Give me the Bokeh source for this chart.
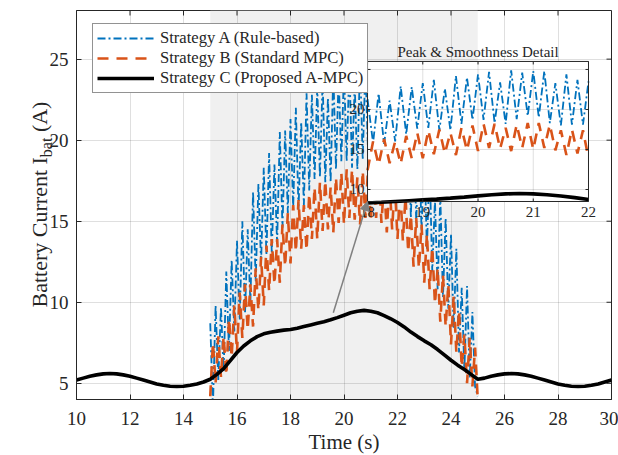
import numpy as np
from bokeh.plotting import figure
from bokeh.layouts import row
from bokeh.models import (Range1d, Legend, LegendItem, Arrow, NormalHead, FixedTicker,
                          BoxAnnotation, Div)
from bokeh.core.properties import value
from bokeh.embed import file_html
from bokeh.resources import INLINE

# ---------------- data ----------------
fast_t_start, fast_t_step = 15.0, 0.1
strategy_a = [8.7, 3.5, 9.8, 5.2, 9.7, 5.7, 11.9, 7.0, 12.6, 8.2,
              13.8, 8.9, 15.0, 9.3, 14.5, 9.9, 16.8, 11.3, 17.3, 12.4,
              18.3, 12.9, 19.2, 13.0, 18.5, 13.6, 20.5, 14.6, 20.6, 15.5,
              21.3, 15.8, 22.0, 15.7, 21.1, 16.0, 22.9, 16.9, 22.8, 17.6,
              23.3, 17.7, 23.7, 17.4, 22.6, 17.4, 24.2, 18.2, 24.0, 18.7,
              24.4, 18.7, 24.7, 18.3, 23.4, 18.2, 24.9, 18.8, 24.6, 19.2,
              24.8, 19.0, 24.8, 18.3, 23.3, 18.0, 24.4, 18.1, 23.7, 18.1,
              23.5, 17.4, 23.0, 16.1, 20.9, 15.2, 21.5, 14.9, 20.2, 14.4,
              19.4, 13.3, 18.6, 11.9, 16.3, 10.8, 16.6, 10.3, 15.2, 9.6,
              14.2, 8.4, 13.3, 6.9, 10.9, 5.8, 11.0, 5.3, 9.4, 4.8,
              4.2]
strategy_b = [4.2, 7.5, 5.0, 7.9, 5.4, 7.9, 5.5, 9.0, 6.6, 9.8,
              6.9, 10.6, 7.8, 11.1, 8.3, 11.1, 8.5, 12.1, 9.5, 12.8,
              9.8, 13.5, 10.7, 13.9, 11.1, 13.9, 11.2, 14.8, 12.2, 15.5,
              12.4, 16.0, 13.1, 16.3, 13.3, 16.0, 13.2, 16.7, 13.9, 17.1,
              13.9, 17.4, 14.4, 17.5, 14.5, 17.1, 14.3, 17.7, 14.9, 18.0,
              14.8, 18.2, 15.2, 18.2, 15.1, 17.7, 14.8, 18.1, 15.2, 18.3,
              15.0, 18.3, 15.2, 18.1, 14.9, 17.4, 14.3, 17.5, 14.5, 17.4,
              13.9, 17.1, 13.8, 16.5, 13.1, 15.4, 12.2, 15.2, 12.1, 14.8,
              11.2, 14.2, 10.8, 13.4, 9.9, 12.1, 8.8, 11.7, 8.5, 11.1,
              7.4, 10.4, 6.9, 9.5, 6.0, 8.0, 5.0, 7.8, 4.8, 7.2,
              4.0]
smooth_t_start, smooth_t_step = 10.0, 0.25
strategy_c = [5.20, 5.32, 5.44, 5.52, 5.58, 5.60, 5.58, 5.52, 5.44, 5.32,
              5.20, 5.08, 4.96, 4.88, 4.82, 4.80, 4.82, 4.88, 4.96, 5.08,
              5.25, 5.55, 5.90, 6.40, 6.90, 7.30, 7.62, 7.88, 8.05, 8.15,
              8.22, 8.28, 8.32, 8.40, 8.50, 8.60, 8.70, 8.80, 8.92, 9.05,
              9.20, 9.35, 9.45, 9.50, 9.45, 9.35, 9.18, 8.98, 8.75, 8.48,
              8.16, 7.88, 7.62, 7.38, 7.08, 6.75, 6.42, 6.12, 5.85, 5.55,
              5.25, 5.32, 5.44, 5.52, 5.58, 5.60, 5.58, 5.52, 5.44, 5.32,
              5.20, 5.08, 4.96, 4.88, 4.82, 4.80, 4.82, 4.88, 4.96, 5.08,
              5.20]
labels = ["Strategy A (Rule-based)", "Strategy B (Standard MPC)",
          "Strategy C (Proposed A-MPC)"]
x_ticks = [10, 12, 14, 16, 18, 20, 22, 24, 26, 28, 30]
y_ticks = [5, 10, 15, 20, 25]
shade_span = [15, 25]
inset_x_ticks = [18, 19, 20, 21, 22]
inset_y_ticks = [10, 15, 20, 25]
inset_xlim = [18, 22]
inset_ylim = [8.5, 26]
arrow_from = [19.6, 9.35]

t_fast = np.round(fast_t_start + fast_t_step * np.arange(len(strategy_a)), 3)
t_smooth = np.round(smooth_t_start + smooth_t_step * np.arange(len(strategy_c)), 3)

# ---------------- styles / geometry ----------------
FONT = "Liberation Serif"
AX = "#262626"
BLUE, ORANGE = "#0072BD", "#D95319"
XR, YR = (10, 30), (4, 28)
FW, FH = 535, 389          # frame size (px)
LBL_W = 46                 # width of the y-title strip
TOP, BOTTOM, LEFT, RIGHT = 10, 56, 30, 7
H = TOP + FH + BOTTOM

p = figure(frame_width=FW, frame_height=FH, x_range=Range1d(*XR), y_range=Range1d(*YR),
           output_backend="svg", toolbar_location=None,
           min_border_left=LEFT, min_border_right=RIGHT, min_border_top=TOP,
           min_border_bottom=BOTTOM, background_fill_color="white",
           border_fill_color="white", border_fill_alpha=0.0)
p.outline_line_color = AX
p.grid.grid_line_color = AX
p.grid.grid_line_alpha = 0.15
p.xaxis.ticker = FixedTicker(ticks=x_ticks)
p.yaxis.ticker = FixedTicker(ticks=y_ticks)
for ax, st in ((p.xaxis, 12), (p.yaxis, 8)):
    ax.major_tick_in = 5
    ax.major_tick_out = 0
    ax.minor_tick_in = 0
    ax.minor_tick_out = 0
    ax.axis_line_color = AX
    ax.major_tick_line_color = AX
    ax.major_label_text_font = FONT
    ax.major_label_text_font_size = "19px"
    ax.major_label_text_color = AX
    ax.major_label_standoff = st
p.xaxis.axis_label = "Time (s)"
p.xaxis.axis_label_text_font = FONT
p.xaxis.axis_label_text_font_size = "21px"
p.xaxis.axis_label_text_font_style = "normal"
p.xaxis.axis_label_text_color = AX
p.xaxis.axis_label_standoff = 2

# ticks on top and right edges (box style)
ux = 5 * (XR[1] - XR[0]) / FW
uy = 5 * (YR[1] - YR[0]) / FH
p.segment(x0=x_ticks, x1=x_ticks, y0=[YR[1]] * len(x_ticks), y1=[YR[1] - uy] * len(x_ticks),
          line_color=AX, line_width=1)
p.segment(x0=[XR[1]] * len(y_ticks), x1=[XR[1] - ux] * len(y_ticks), y0=y_ticks, y1=y_ticks,
          line_color=AX, line_width=1)

p.add_layout(BoxAnnotation(left=shade_span[0], right=shade_span[1], fill_color="#f0f0f0",
                           fill_alpha=1.0, line_color=None, level="image"))

STY_A = dict(line_color=BLUE, line_width=1.8, line_dash="8 3 2 3")
STY_B = dict(line_color=ORANGE, line_width=2.6, line_dash="11 8")
STY_C = dict(line_color="black", line_width=3.6)
ra = p.line(t_fast, strategy_a, **STY_A)
rb = p.line(t_fast, strategy_b, **STY_B)
rc = p.line(t_smooth, strategy_c, **STY_C)

legend = Legend(items=[LegendItem(label=labels[0], renderers=[ra]),
                       LegendItem(label=labels[1], renderers=[rb]),
                       LegendItem(label=labels[2], renderers=[rc])],
                location=(16, 306), padding=4, margin=0, spacing=0,
                glyph_width=57, glyph_height=20, label_height=20, label_standoff=6,
                label_text_font=FONT, label_text_font_size="16.6px", label_text_color=AX,
                border_line_color=AX, border_line_width=1,
                background_fill_color="white", background_fill_alpha=1.0)
p.add_layout(legend)

# ---------------- inset (own ranges mapped onto a box in the frame) ----------------
bx0, bx1, by0, by1 = 0.544, 0.957, 0.509, 0.869     # box as fractions of the frame
mx0 = XR[0] + (XR[1] - XR[0]) * bx0
mx1 = XR[0] + (XR[1] - XR[0]) * bx1
my0 = YR[0] + (YR[1] - YR[0]) * by0
my1 = YR[0] + (YR[1] - YR[0]) * by1
sx = (mx1 - mx0) / (inset_xlim[1] - inset_xlim[0])
sy = (my1 - my0) / (inset_ylim[1] - inset_ylim[0])
p.extra_x_ranges = {"ix": Range1d(inset_xlim[0] - (mx0 - XR[0]) / sx,
                                  inset_xlim[1] + (XR[1] - mx1) / sx)}
p.extra_y_ranges = {"iy": Range1d(inset_ylim[0] - (my0 - YR[0]) / sy,
                                  inset_ylim[1] + (YR[1] - my1) / sy)}
IN = dict(x_range_name="ix", y_range_name="iy", level="overlay")

p.quad(left=[inset_xlim[0]], right=[inset_xlim[1]], bottom=[inset_ylim[0]], top=[inset_ylim[1]],
       fill_color="white", line_color=None, **IN)
gx = inset_x_ticks[1:-1]
p.segment(x0=gx, x1=gx, y0=[inset_ylim[0]] * len(gx), y1=[inset_ylim[1]] * len(gx),
          line_color=AX, line_alpha=0.15, line_width=1, **IN)
gy = [v for v in inset_y_ticks if inset_ylim[0] < v < inset_ylim[1]]
p.segment(x0=[inset_xlim[0]] * len(gy), x1=[inset_xlim[1]] * len(gy), y0=gy, y1=gy,
          line_color=AX, line_alpha=0.15, line_width=1, **IN)

mf = (t_fast >= inset_xlim[0]) & (t_fast <= inset_xlim[1])
ms = (t_smooth >= inset_xlim[0]) & (t_smooth <= inset_xlim[1])
p.line(t_fast[mf], np.array(strategy_a)[mf], **STY_A, **IN)
p.line(t_fast[mf], np.array(strategy_b)[mf], **STY_B, **IN)
p.line(t_smooth[ms], np.array(strategy_c)[ms], **STY_C, **IN)

p.quad(left=[inset_xlim[0]], right=[inset_xlim[1]], bottom=[inset_ylim[0]], top=[inset_ylim[1]],
       fill_color=None, line_color=AX, line_width=1, **IN)
ipx_x = (inset_xlim[1] - inset_xlim[0]) / ((bx1 - bx0) * FW)
ipx_y = (inset_ylim[1] - inset_ylim[0]) / ((by1 - by0) * FH)
tlx, tly = 3 * ipx_x, 3 * ipx_y
tx = inset_x_ticks
p.segment(x0=tx, x1=tx, y0=[inset_ylim[0]] * len(tx), y1=[inset_ylim[0] + tly] * len(tx),
          line_color=AX, **IN)
p.segment(x0=tx, x1=tx, y0=[inset_ylim[1]] * len(tx), y1=[inset_ylim[1] - tly] * len(tx),
          line_color=AX, **IN)
p.segment(x0=[inset_xlim[0]] * len(gy), x1=[inset_xlim[0] + tlx] * len(gy), y0=gy, y1=gy,
          line_color=AX, **IN)
p.segment(x0=[inset_xlim[1]] * len(gy), x1=[inset_xlim[1] - tlx] * len(gy), y0=gy, y1=gy,
          line_color=AX, **IN)

p.text(x=tx, y=[inset_ylim[0]] * len(tx), text=[str(v) for v in tx],
       text_align="center", text_baseline="top", y_offset=6,
       text_font=value(FONT), text_font_size="15px", text_color=AX, **IN)
p.text(x=[inset_xlim[0]] * len(gy), y=gy, text=[str(v) for v in gy],
       text_align="right", text_baseline="middle", x_offset=-3,
       text_font=value(FONT), text_font_size="15px", text_color=AX, **IN)
p.text(x=[sum(inset_xlim) / 2], y=[inset_ylim[1]], text=["Peak & Smoothness Detail"],
       text_align="center", text_baseline="alphabetic", y_offset=-9,
       text_font=value(FONT), text_font_size="15px", text_color=AX, **IN)

arrow = Arrow(end=NormalHead(size=9, fill_color="#808080", line_color="#808080"),
              x_start=arrow_from[0], y_start=arrow_from[1], x_end=mx0, y_end=my0,
              line_color="#808080", line_width=1.5, level="overlay")
p.add_layout(arrow)

# ---------------- y title (HTML text, rotated, with a real subscript) ----------------
y_title_left = 28.5     # px: puts the text baseline ~47 px from the left edge
y_title_html = (
    f'<div style="position:relative;width:{LBL_W}px;height:{H}px;overflow:visible;">'
    f'<div style="position:absolute;left:{y_title_left}px;top:{TOP + FH}px;width:{FH}px;'
    'height:22px;transform-origin:0 0;transform:rotate(-90deg);text-align:center;'
    f"white-space:nowrap;font-family:'{FONT}';font-size:22px;line-height:22px;"
    f'color:{AX};">Battery Current I<sub style="font-size:16px;line-height:0;">bat</sub>'
    '&nbsp;(A)</div></div>'
)
y_title = Div(text=y_title_html, width=LBL_W, height=H, margin=0,
              styles={"overflow": "visible"})

layout = row(y_title, p, spacing=0)
open("out.html", "w").write(file_html(layout, INLINE))
